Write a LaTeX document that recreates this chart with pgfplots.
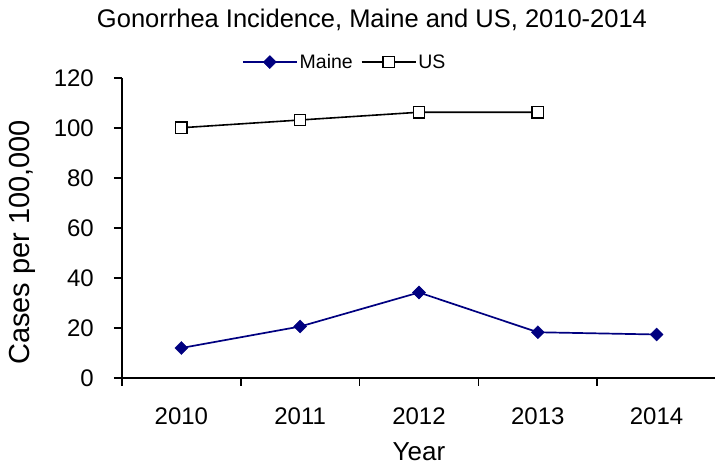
\documentclass[border=0pt]{standalone}
\usepackage{pgfplots}
\pgfplotsset{compat=1.18}
\usepackage{fontspec}
\setmainfont{Liberation Sans}
\definecolor{mnavy}{RGB}{0,0,128}
\begin{document}
\begin{tikzpicture}[x=1pt,y=1pt]
\path[use as bounding box] (-122,-92) rectangle (593,378);
\begin{axis}[
  at={(0,0)}, anchor=south west, scale only axis,
  width=594pt, height=300pt,
  xmin=-0.5, xmax=4.5, ymin=0, ymax=120,
  axis x line*=bottom, axis y line*=left,
  axis line style={-, line width=1.8pt},
  every tick/.style={black, line width=1.6pt},
  tick align=outside,
  major tick length=8pt,
  xtick={-0.5,0.5,1.5,2.5,3.5,4.5},
  xticklabels={,,,,,},
  extra x ticks={0,1,2,3,4},
  extra x tick labels={2010,2011,2012,2013,2014},
  extra x tick style={major tick length=0pt, xticklabel style={anchor=center, yshift=-38pt}},
  ytick={0,20,40,60,80,100,120},
  yticklabel style={anchor=east, inner sep=0pt, xshift=-20pt},
  /pgf/number format/assume math mode=true,
  tick label style={font=\fontsize{24}{28}\selectfont},
  xlabel={Year},
  ylabel={Cases per 100,000},
  xlabel style={font=\fontsize{26}{30}\selectfont, at={(axis description cs:0.5,-0.247)}, anchor=center},
  ylabel style={font=\fontsize{29}{33}\selectfont, at={(axis description cs:-0.1675,0.452)}, anchor=center},
  legend columns=2,
  legend style={at={(axis description cs:0.375,1.053)}, anchor=center, draw=none, fill=none,
    font=\fontsize{19.5}{22}\selectfont,
    /tikz/every even column/.append style={column sep=6pt},
    nodes={inner sep=2pt}},
  legend image code/.code={\draw[mark repeat=2,mark phase=2] plot coordinates {(0pt,0pt) (27pt,0pt) (54pt,0pt)};},
  clip=false,
]
\addplot[color=mnavy, line width=1.7pt, mark=square*, mark size=4.6pt, mark options={rotate=45, fill=mnavy, draw=mnavy, line width=0.4pt}]
  coordinates {(0,12.0) (1,20.6) (2,34.2) (3,18.3) (4,17.4)};
\addlegendentry{Maine}
\addplot[color=black, line width=1.6pt, mark=square*, mark size=5.6pt, mark options={fill=white, draw=black, line width=1.4pt}]
  coordinates {(0,100.1) (1,103.2) (2,106.3) (3,106.3)};
\addlegendentry{US}
\end{axis}
\node[anchor=base] at (250,350) {\fontsize{25.5}{29}\selectfont Gonorrhea Incidence, Maine and US, 2010-2014};
\end{tikzpicture}
\end{document}
